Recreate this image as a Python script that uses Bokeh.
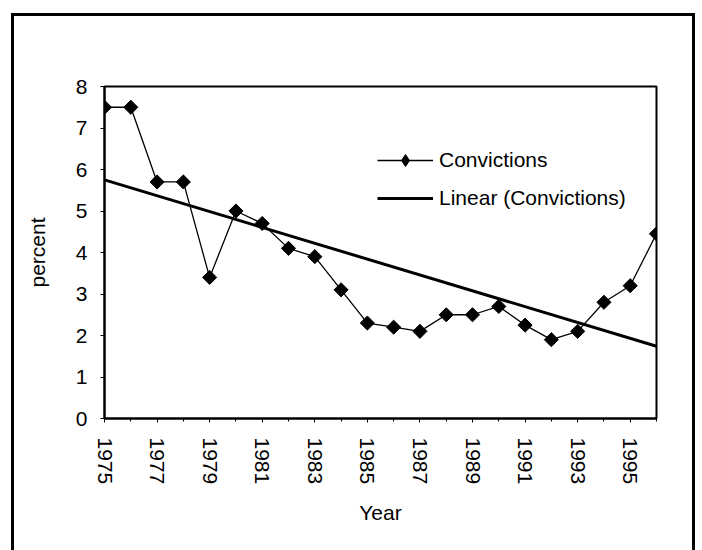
import math
from bokeh.plotting import figure
from bokeh.models import Range1d, FixedTicker, Legend, LegendItem
from bokeh.embed import file_html
from bokeh.resources import INLINE

# ---- data ----
years = list(range(1975, 1997))
convictions = [7.5, 7.5, 5.7, 5.7, 3.4, 5.0, 4.7, 4.1, 3.9, 3.1, 2.3,
               2.2, 2.1, 2.5, 2.5, 2.7, 2.25, 1.9, 2.1, 2.8, 3.2, 4.45]
trend_years = [1975, 1996]
trend_values = [5.75, 1.74]
x_tick_labels = [1975, 1977, 1979, 1981, 1983, 1985, 1987, 1989, 1991, 1993, 1995]
y_ticks = [0, 1, 2, 3, 4, 5, 6, 7, 8]

FONT = "Liberation Sans"

p = figure(width=678, height=534, output_backend="svg", toolbar_location=None,
           x_range=Range1d(1975, 1996), y_range=Range1d(0, 8),
           min_border_left=90, min_border_right=36, min_border_top=70,
           min_border_bottom=132, background_fill_color="white",
           border_fill_color="white")
p.margin = (16, 0, 0, 14)
p.styles = {"outline": "3px solid black", "outline-offset": "0px"}

p.grid.visible = False
p.outline_line_color = "black"
p.outline_line_width = 2

# axes
p.xaxis.ticker = FixedTicker(ticks=x_tick_labels, minor_ticks=years)
p.xaxis.major_label_orientation = "vertical"
p.xaxis.axis_label = "Year"
p.yaxis.ticker = FixedTicker(ticks=y_ticks)
p.yaxis.axis_label = "percent"

for ax in (p.xaxis[0], p.yaxis[0]):
    ax.axis_line_color = "black"
    ax.axis_line_width = 2
    ax.major_tick_line_color = "black"
    ax.major_tick_in = 0
    ax.major_tick_out = 4
    ax.minor_tick_line_color = "black"
    ax.minor_tick_in = 0
    ax.minor_tick_out = 3
    ax.major_label_text_font = FONT
    ax.major_label_text_font_size = "21px"
    ax.major_label_text_color = "black"
    ax.axis_label_text_font = FONT
    ax.axis_label_text_font_size = "21px"
    ax.axis_label_text_font_style = "normal"
    ax.axis_label_text_color = "black"

p.yaxis.minor_tick_line_color = None
p.xaxis.major_label_standoff = 15
p.yaxis.major_label_standoff = 13
p.xaxis.axis_label_standoff = 14
p.yaxis.axis_label_standoff = 24
p.xaxis.axis_label_text_align = "right"

line = p.line(years, convictions, line_color="black", line_width=1.3)
pts = p.scatter(years, convictions, marker="square", size=10,
                angle=math.pi / 4, fill_color="black", line_color="black")
legend_marker = p.scatter(years, convictions, marker="diamond", size=12,
                          fill_color="black", line_color="black", visible=False)
trend = p.line(trend_years, trend_values, line_color="black", line_width=3)

legend = Legend(items=[LegendItem(label="Convictions", renderers=[line, legend_marker]),
                       LegendItem(label="Linear (Convictions)", renderers=[trend])],
                location=(263, 195))
legend.label_text_font = FONT
legend.label_text_font_size = "21px"
legend.label_text_color = "black"
legend.glyph_width = 56
legend.glyph_height = 30
legend.label_height = 30
legend.spacing = 8
legend.padding = 10
legend.margin = 0
legend.label_standoff = 6
legend.border_line_alpha = 0
legend.background_fill_alpha = 0
legend.inactive_fill_alpha = 0
p.add_layout(legend)

open("out.html", "w").write(file_html(p, INLINE))
